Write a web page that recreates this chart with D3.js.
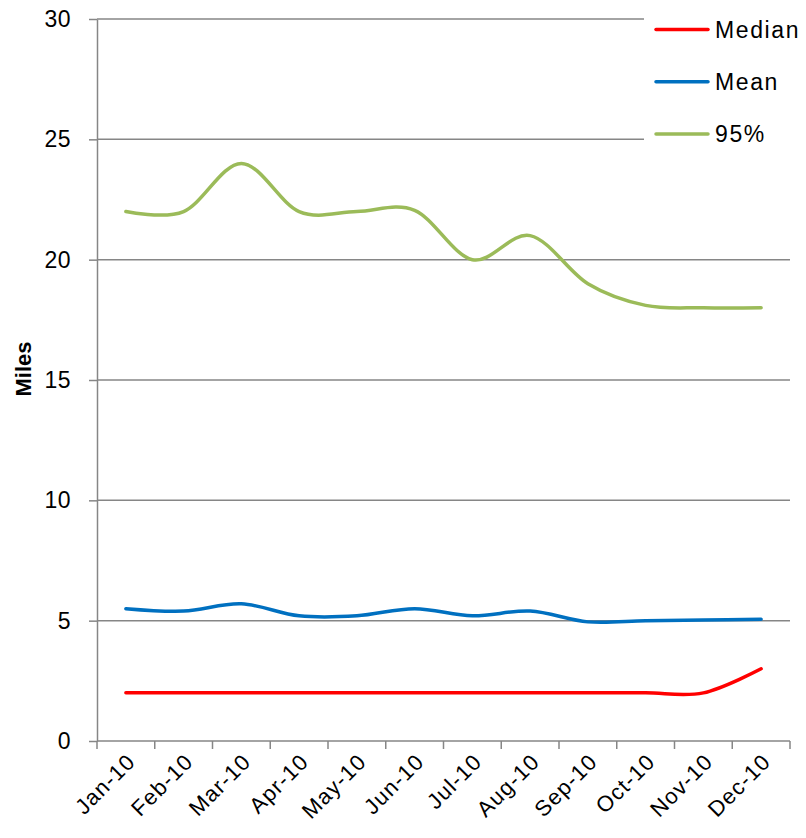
<!DOCTYPE html>
<html>
<head>
<meta charset="utf-8">
<script src="https://cdn.jsdelivr.net/npm/d3@7"></script>
<style>
  body { margin: 0; background: #fff; }
  text { font-family: "Liberation Sans", Arial, sans-serif; fill: #000; }
</style>
</head>
<body>
<div id="chart"></div>
<script>
// --------------------------------------
//  Data
// --------------------------------------

const months = ["Jan-10", "Feb-10", "Mar-10", "Apr-10", "May-10", "Jun-10",
                "Jul-10", "Aug-10", "Sep-10", "Oct-10", "Nov-10", "Dec-10"];
const median = [2, 2, 2, 2, 2, 2, 2, 2, 2, 2, 2, 3];
const mean = [5.5, 5.4, 5.7, 5.2, 5.2, 5.5, 5.2, 5.4, 4.95, 5.0, 5.03, 5.06];
const p95 = [22, 22, 24, 22, 22, 22.05, 20, 21, 19, 18.1, 18, 18];
const yTicks = [0, 5, 10, 15, 20, 25, 30];

const series = [
  { name: "Median", values: median, color: "#ff0000" },
  { name: "Mean", values: mean, color: "#0070c0" },
  { name: "95%", values: p95, color: "#9bbb59" }
];

// --------------------------------------
//  Margin and canvas
// --------------------------------------

const margin = {top: 19, right: 16, bottom: 97, left: 97};
const width = 806;
const height = 838;
const innerwidth = width - margin.left - margin.right;
const innerheight = height - margin.top - margin.bottom;

const svg = d3.select("#chart")
  .append("svg")
    .attr("width", width)
    .attr("height", height);

const inner = svg.append("g")
    .attr("transform", `translate(${margin.left}, ${margin.top})`);

// --------------------------------------
//  Scales
// --------------------------------------

const x = d3.scaleBand()
    .domain(months)
    .range([0, innerwidth]);

const y = d3.scaleLinear()
    .domain([0, 30])
    .range([innerheight, 0]);

const grey = "#868686";

// gridlines
inner.append("g")
  .selectAll("line")
  .data(yTicks.filter(d => d > 0))
  .join("line")
    .attr("x1", 0)
    .attr("x2", innerwidth)
    .attr("y1", d => y(d))
    .attr("y2", d => y(d))
    .attr("stroke", grey)
    .attr("stroke-width", 1.5);

// --------------------------------------
//  Axes
// --------------------------------------

const yAxis = inner.append("g")
    .call(d3.axisLeft(y).tickValues(yTicks).tickSize(8).tickPadding(18).tickSizeOuter(0));
yAxis.select(".domain").attr("stroke", grey).attr("stroke-width", 1.5);
yAxis.selectAll(".tick line").attr("stroke", grey).attr("stroke-width", 1.5);
yAxis.selectAll(".tick text")
    .attr("font-size", 23)
    .attr("letter-spacing", 0.5)
    .attr("font-family", "Liberation Sans, Arial, sans-serif")
    .attr("fill", "#000");

const xAxis = inner.append("g")
    .attr("transform", `translate(0, ${innerheight})`);
xAxis.append("line")
    .attr("x1", 0).attr("x2", innerwidth)
    .attr("stroke", grey).attr("stroke-width", 1.5);
xAxis.selectAll(".xtick")
  .data(months.concat(["end"]))
  .join("line")
    .attr("class", "xtick")
    .attr("x1", (d, i) => i < months.length ? x(d) : innerwidth)
    .attr("x2", (d, i) => i < months.length ? x(d) : innerwidth)
    .attr("y1", 0)
    .attr("y2", 8)
    .attr("stroke", grey)
    .attr("stroke-width", 1.5);
xAxis.selectAll(".xlabel")
  .data(months)
  .join("text")
    .attr("class", "xlabel")
    .attr("transform", d => `translate(${x(d) + x.bandwidth() / 2 + 11}, ${22}) rotate(-45)`)
    .attr("text-anchor", "end")
    .attr("font-size", 22)
    .attr("letter-spacing", 1.2)
    .text(d => d);

// y title
svg.append("text")
    .attr("transform", `translate(31, 369) rotate(-90)`)
    .attr("text-anchor", "middle")
    .attr("font-size", 22)
    .attr("font-weight", "bold")
    .text("Miles");

// --------------------------------------
//  Lines
// --------------------------------------

const line = d3.line()
    .x((d, i) => x(months[i]) + x.bandwidth() / 2)
    .y(d => y(d))
    .curve(d3.curveCardinal.tension(0));

inner.append("g")
  .selectAll("path")
  .data(series)
  .join("path")
    .attr("d", d => line(d.values))
    .attr("fill", "none")
    .attr("stroke", d => d.color)
    .attr("stroke-width", 3.5)
    .attr("stroke-linecap", "round");

// --------------------------------------
//  Legend
// --------------------------------------

const legend = svg.append("g");
legend.append("rect")
    .attr("x", 644).attr("y", 0)
    .attr("width", 162).attr("height", 150)
    .attr("fill", "#fff");

const items = legend.selectAll(".item")
  .data(series)
  .join("g")
    .attr("class", "item")
    .attr("transform", (d, i) => `translate(656, ${29.5 + i * 52.3})`);
items.append("line")
    .attr("x1", 0).attr("x2", 52)
    .attr("stroke", d => d.color)
    .attr("stroke-width", 3.5)
    .attr("stroke-linecap", "round");
items.append("text")
    .attr("x", 59)
    .attr("y", 8)
    .attr("font-size", 23)
    .attr("letter-spacing", 1.6)
    .text(d => d.name);
</script>
</body>
</html>
